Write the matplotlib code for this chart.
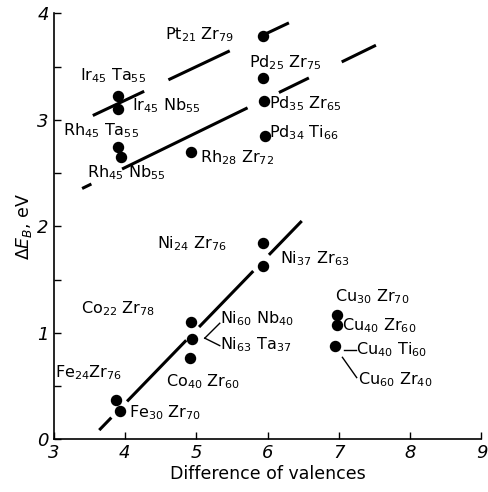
"""Binding-energy shift vs difference of valences for amorphous alloys."""

import matplotlib
matplotlib.use("Agg")
import matplotlib.pyplot as plt
from matplotlib.ticker import MultipleLocator

# measured points
ALLOY_X = [5.93, 5.93, 5.95, 5.97, 3.90, 3.91, 3.91, 3.94, 4.93,
           5.94, 5.94, 4.93, 4.94, 4.91, 3.88, 3.93, 6.98, 6.97, 6.94]
ALLOY_Y = [3.79, 3.39, 3.18, 2.85, 3.22, 3.10, 2.74, 2.65, 2.70,
           1.84, 1.63, 1.10, 0.94, 0.76, 0.37, 0.27, 1.17, 1.07, 0.875]

# labels: text, x, y (left edge / centre)
LABELS = [
    ("Pt$_{21}$ Zr$_{79}$", 4.56, 3.80),
    ("Pd$_{25}$ Zr$_{75}$", 5.74, 3.54),
    ("Ir$_{45}$ Ta$_{55}$", 3.37, 3.41),
    ("Ir$_{45}$ Nb$_{55}$", 4.10, 3.13),
    ("Pd$_{35}$ Zr$_{65}$", 6.02, 3.15),
    ("Rh$_{45}$ Ta$_{55}$", 3.13, 2.90),
    ("Pd$_{34}$ Ti$_{66}$", 6.02, 2.88),
    ("Rh$_{28}$ Zr$_{72}$", 5.05, 2.64),
    ("Rh$_{45}$ Nb$_{55}$", 3.47, 2.50),
    ("Ni$_{24}$ Zr$_{76}$", 4.45, 1.84),
    ("Ni$_{37}$ Zr$_{63}$", 6.18, 1.70),
    ("Co$_{22}$ Zr$_{78}$", 3.39, 1.23),
    ("Ni$_{60}$ Nb$_{40}$", 5.34, 1.13),
    ("Ni$_{63}$ Ta$_{37}$", 5.34, 0.885),
    ("Co$_{40}$ Zr$_{60}$", 4.57, 0.54),
    ("Fe$_{24}$Zr$_{76}$", 3.02, 0.63),
    ("Fe$_{30}$ Zr$_{70}$", 4.06, 0.25),
    ("Cu$_{30}$ Zr$_{70}$", 6.94, 1.34),
    ("Cu$_{40}$ Zr$_{60}$", 7.04, 1.07),
    ("Cu$_{40}$ Ti$_{60}$", 7.24, 0.84),
    ("Cu$_{60}$ Zr$_{40}$", 7.27, 0.56),
]

# fitted lines: (x0, y0, x1, y1) and the x pieces that are drawn
TREND_ENDS = [
    (3.55, 3.04, 6.30, 3.91),
    (3.40, 2.355, 7.52, 3.70),
    (3.64, 0.087, 6.48, 2.05),
]
TREND_PIECES = [
    [(3.55, 4.27), (4.61, 5.47), (5.97, 6.30)],
    [(3.40, 3.53), (3.96, 5.72), (6.16, 6.58), (7.04, 7.52)],
    [(3.64, 3.81), (4.03, 4.86), (5.04, 5.80), (6.02, 6.48)],
]

# short leader strokes next to labels
LEADERS = [
    [(5.12, 0.95), (5.33, 1.09)],
    [(5.12, 0.95), (5.33, 0.88)],
    [(7.07, 0.84), (7.24, 0.84)],
    [(7.05, 0.77), (7.25, 0.58)],
]


def _line_y(end, x):
    x0, y0, x1, y1 = end
    return y0 + (y1 - y0) * (x - x0) / (x1 - x0)


def main():
    plt.rcParams["font.family"] = ["DejaVu Sans"]
    fig = plt.figure(figsize=(4.89, 4.92), dpi=100)
    ax = fig.add_axes([0.1096, 0.107, 0.875, 0.866])

    for end, pieces in zip(TREND_ENDS, TREND_PIECES):
        for a, b in pieces:
            ax.plot([a, b], [_line_y(end, a), _line_y(end, b)], color="black",
                    linewidth=2.2, solid_capstyle="butt")

    for seg in LEADERS:
        ax.plot([p[0] for p in seg], [p[1] for p in seg], color="black", linewidth=1.0)

    ax.scatter(ALLOY_X, ALLOY_Y, s=52, color="black", zorder=3)

    for text, x, y in LABELS:
        ax.text(x, y, text, ha="left", va="center", fontsize=11.5, color="black")

    ax.set_xlim(3, 9)
    ax.set_ylim(0, 4)
    ax.xaxis.set_major_locator(MultipleLocator(1))
    ax.yaxis.set_major_locator(MultipleLocator(1))
    ax.yaxis.set_minor_locator(MultipleLocator(0.5))
    ax.tick_params(which="both", direction="in", length=5, width=1.0, labelsize=13)
    for lab in ax.get_xticklabels() + ax.get_yticklabels():
        lab.set_style("italic")
    ax.spines["top"].set_visible(False)
    ax.spines["right"].set_visible(False)
    ax.spines["left"].set_linewidth(1.2)
    ax.spines["bottom"].set_linewidth(1.2)

    ax.set_xlabel("Difference of valences", fontsize=12.5, labelpad=2)
    ax.set_ylabel(r"$\Delta E_B$, eV", fontsize=12.5, labelpad=2)

    fig.savefig("out.png", dpi=100)
    plt.close(fig)


if __name__ == "__main__":
    main()
